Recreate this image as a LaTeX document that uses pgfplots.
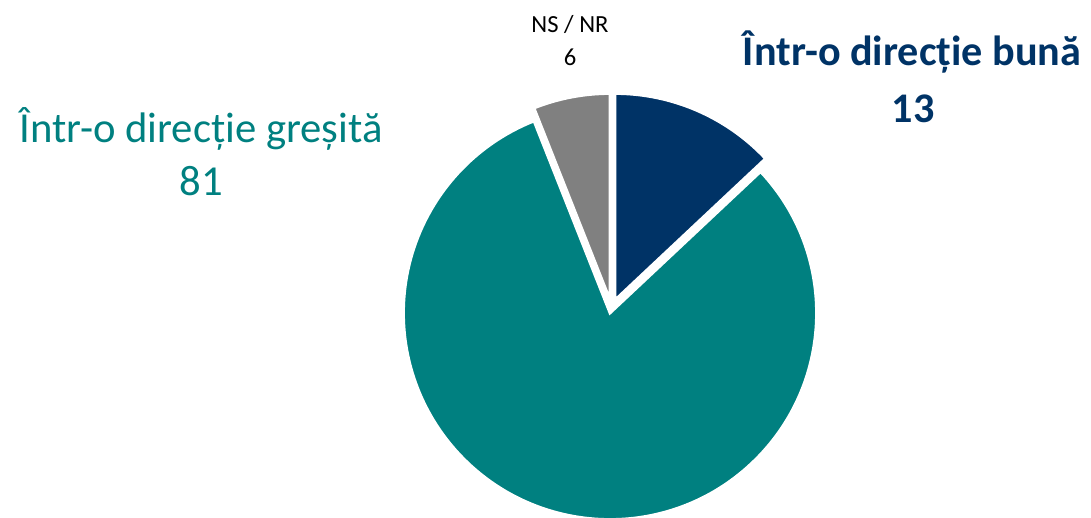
\documentclass[border=0pt]{standalone}
\usepackage{pgfplots}
\pgfplotsset{compat=1.18}
\usepackage{fontspec}
\setmainfont{Carlito}

\definecolor{navyslice}{RGB}{0,51,102}
\definecolor{tealslice}{RGB}{0,128,128}
\definecolor{grayslice}{RGB}{128,128,128}

% shares (percent)
\def\buna{13}
\def\gresita{81}
\def\nsnr{6}

\begin{document}
\begin{tikzpicture}
% slice angles, clockwise from 12 o'clock
\pgfmathsetmacro{\aA}{90}
\pgfmathsetmacro{\aB}{90-\buna*3.6}
\pgfmathsetmacro{\aC}{\aB-\gresita*3.6}
\pgfmathsetmacro{\aD}{\aC-\nsnr*3.6}
\def\R{4.13cm}
\begin{axis}[
name=ax,
hide axis,
scale only axis,
width=21.82cm, height=10.34cm,
xmin=0, xmax=1091, ymin=0, ymax=517,
clip=true
]
\addplot[draw=none] coordinates {(0,0) (1091,517)};
% Într-o direcție greșită
\filldraw[tealslice, draw=white, line width=1.6pt]
  (axis cs:610,204) -- ++(\aB:\R) arc[start angle=\aB, end angle=\aC, radius=\R] -- cycle;
% Într-o direcție bună
\filldraw[navyslice, draw=white, line width=1.6pt]
  (axis cs:615,217) -- ++(\aA:\R) arc[start angle=\aA, end angle=\aB, radius=\R] -- cycle;
% NS / NR
\filldraw[grayslice, draw=white, line width=1.6pt]
  (axis cs:610,217) -- ++(\aC:\R) arc[start angle=\aC, end angle=\aD, radius=\R] -- cycle;

\node[anchor=base, text=tealslice, font=\fontsize{24.3}{28}\selectfont] at (axis cs:201,375) {Într-o direcție greșită};
\node[anchor=base, text=tealslice, font=\fontsize{24.3}{28}\selectfont] at (axis cs:201,322) {\gresita};
\node[anchor=base, text=navyslice, font=\bfseries\fontsize{24}{28}\selectfont] at (axis cs:912,452) {Într-o direcție bună};
\node[anchor=base, text=navyslice, font=\bfseries\fontsize{24}{28}\selectfont] at (axis cs:913,395) {\buna};
\node[anchor=base, text=black, font=\fontsize{14}{16}\selectfont] at (axis cs:570,485) {NS / NR};
\node[anchor=base, text=black, font=\fontsize{14}{16}\selectfont] at (axis cs:570,452) {\nsnr};
\end{axis}
\pgfresetboundingbox
\path (ax.south west) rectangle (ax.north east);
\end{tikzpicture}
\end{document}
